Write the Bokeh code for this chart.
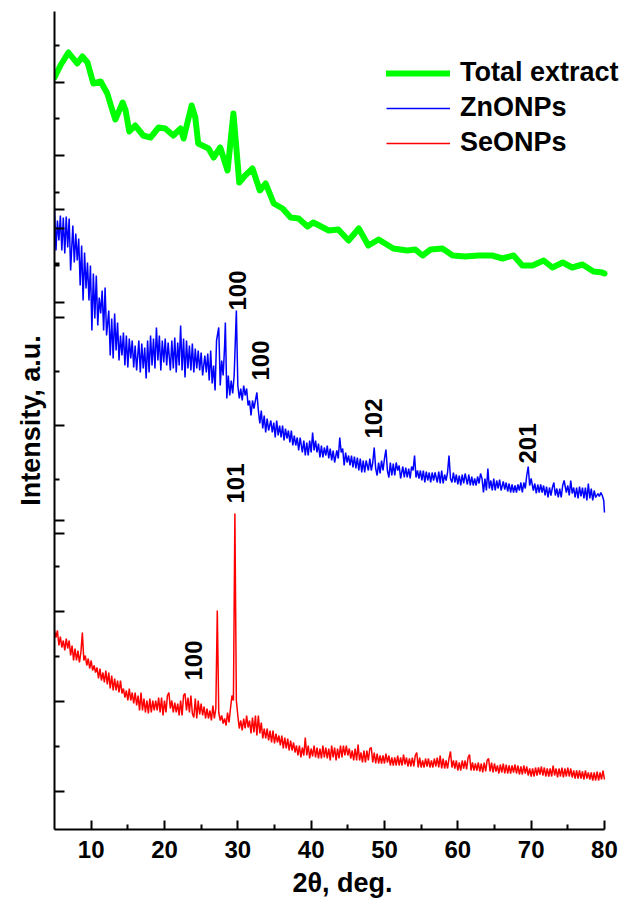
from math import pi
from bokeh.plotting import figure
from bokeh.models import Legend, LegendItem, FixedTicker, Range1d, CustomJSTickFormatter
from bokeh.core.properties import value
from bokeh.embed import file_html
from bokeh.resources import INLINE

FONT = "Liberation Sans"

# ---- data (2theta in degrees, intensity in a.u.) ----
green_two_theta = [5.0, 5.8, 6.9, 8.1, 8.8, 9.5, 10.3, 11.3, 12.2, 12.9, 13.3, 14.3, 14.7, 15.2, 16.0,
                   17.1, 18.1, 19.2, 20.1, 21.2, 22.2, 22.6, 23.7, 24.2, 24.6, 26.0, 26.7, 27.6, 28.6,
                   29.4, 30.2, 31.0, 32.0, 33.0, 33.8, 34.9, 36.1, 37.2, 38.3, 39.5, 40.3, 42.4, 43.7,
                   45.1, 46.5, 47.8, 49.2, 51.2, 53.1, 54.2, 55.2, 56.3, 57.9, 59.3, 61.0, 62.8, 64.7,
                   66.1, 67.6, 68.8, 70.2, 71.7, 72.9, 74.3, 75.6, 77.0, 78.5, 79.7, 80.0]
green_intensity = [752, 764, 777, 766, 773, 767, 746, 748, 736, 719, 710, 727, 719, 698, 704,
                   694, 692, 702, 701, 694, 701, 691, 724, 712, 686, 681, 672, 682, 659,
                   716, 647, 654, 661, 639, 646, 626, 621, 612, 611, 603, 607, 599, 600,
                   589, 601, 584, 590, 581, 579, 580, 574, 580, 581, 574, 573, 574, 574,
                   571, 574, 564, 564, 569, 562, 567, 562, 565, 558, 557, 556]

zno_scan = [
    (5.0, 622), (5.2, 579), (5.4, 609), (5.6, 589), (5.8, 614), (6.0, 579), (6.2, 612), (6.4, 576),
    (6.6, 613), (6.8, 582), (7.0, 611), (7.2, 559), (7.5, 604), (7.7, 567), (7.9, 596), (8.1, 569),
    (8.3, 591), (8.5, 544), (8.7, 584), (8.9, 529), (9.1, 577), (9.3, 541), (9.5, 567), (9.7, 529),
    (9.9, 564), (10.1, 499), (10.3, 556), (10.5, 511), (10.7, 554), (10.9, 504), (11.1, 532), (11.3, 516),
    (11.5, 539), (11.7, 499), (11.9, 542), (12.1, 494), (12.4, 519), (12.6, 474), (12.8, 511), (13.0, 471),
    (13.2, 516), (13.4, 479), (13.6, 507), (13.8, 469), (14.0, 494), (14.2, 474), (14.4, 497), (14.6, 464),
    (14.8, 494), (15.0, 462), (15.2, 491), (15.4, 471), (15.6, 489), (15.8, 462), (16.0, 484), (16.2, 459),
    (16.5, 489), (16.7, 457), (16.9, 486), (17.1, 461), (17.3, 482), (17.5, 451), (17.7, 489), (17.9, 457),
    (18.1, 494), (18.3, 464), (18.5, 491), (18.7, 461), (18.9, 502), (19.1, 469), (19.3, 494), (19.5, 459),
    (19.7, 489), (19.9, 467), (20.1, 491), (20.3, 464), (20.5, 487), (20.8, 459), (21.0, 489), (21.2, 461),
    (21.4, 492), (21.6, 457), (21.8, 487), (22.0, 464), (22.2, 504), (22.4, 459), (22.6, 491), (22.8, 452),
    (23.0, 489), (23.2, 461), (23.4, 484), (23.6, 459), (23.8, 486), (24.0, 457), (24.2, 481), (24.4, 461),
    (24.6, 479), (24.8, 459), (25.0, 477), (25.2, 454), (25.5, 474), (25.7, 457), (25.9, 476), (26.1, 449),
    (26.3, 479), (26.5, 446), (26.7, 464), (26.9, 439), (27.1, 489), (27.4, 502), (27.6, 444), (27.8, 469),
    (28.0, 454), (28.2, 484), (28.3, 507), (28.5, 431), (28.7, 454), (28.9, 434), (29.1, 449), (29.3, 436),
    (29.5, 454), (29.8, 519), (30.0, 444), (30.2, 431), (30.4, 441), (30.6, 429), (30.8, 444), (31.0, 434),
    (31.2, 441), (31.4, 424), (31.6, 429), (31.8, 414), (32.0, 429), (32.2, 421), (32.4, 429), (32.6, 437),
    (32.8, 419), (33.0, 406), (33.2, 419), (33.4, 401), (33.6, 414), (33.8, 397), (34.0, 411), (34.2, 399),
    (34.5, 409), (34.7, 397), (34.9, 407), (35.1, 392), (35.3, 409), (35.5, 394), (35.7, 404), (35.9, 392),
    (36.1, 404), (36.3, 389), (36.5, 401), (36.7, 391), (36.9, 399), (37.1, 387), (37.3, 399), (37.5, 384),
    (37.7, 394), (37.9, 384), (38.1, 392), (38.3, 379), (38.5, 392), (38.8, 377), (39.0, 389), (39.2, 374),
    (39.4, 387), (39.6, 374), (39.8, 389), (40.0, 377), (40.2, 397), (40.4, 379), (40.6, 389), (40.8, 377),
    (41.0, 386), (41.2, 372), (41.4, 384), (41.6, 372), (41.8, 382), (42.0, 374), (42.2, 384), (42.4, 371),
    (42.6, 381), (42.8, 369), (43.0, 379), (43.2, 367), (43.5, 379), (43.7, 371), (43.9, 392), (44.1, 377),
    (44.3, 381), (44.5, 364), (44.7, 377), (44.9, 367), (45.1, 374), (45.3, 364), (45.5, 374), (45.7, 362),
    (45.9, 373), (46.1, 361), (46.3, 372), (46.5, 359), (46.7, 371), (46.9, 357), (47.1, 369), (47.3, 357),
    (47.5, 369), (47.8, 359), (48.0, 371), (48.2, 359), (48.4, 367), (48.6, 382), (48.8, 361), (49.0, 354),
    (49.2, 367), (49.4, 356), (49.6, 369), (49.8, 359), (50.0, 371), (50.2, 380), (50.4, 359), (50.6, 352),
    (50.8, 367), (51.0, 354), (51.2, 366), (51.4, 354), (51.6, 367), (51.8, 359), (52.0, 364), (52.2, 351),
    (52.5, 363), (52.7, 352), (52.9, 362), (53.1, 352), (53.3, 361), (53.5, 351), (53.7, 363), (53.9, 359),
    (54.1, 374), (54.3, 352), (54.5, 359), (54.7, 351), (54.9, 359), (55.1, 349), (55.3, 359), (55.5, 347),
    (55.7, 358), (55.9, 349), (56.1, 357), (56.3, 347), (56.5, 357), (56.7, 349), (56.9, 357), (57.2, 347),
    (57.4, 358), (57.6, 346), (57.8, 359), (58.0, 346), (58.2, 355), (58.4, 349), (58.6, 357), (58.8, 374),
    (59.0, 351), (59.2, 347), (59.4, 357), (59.6, 347), (59.8, 355), (60.0, 345), (60.2, 354), (60.4, 344),
    (60.6, 355), (60.8, 346), (61.0, 356), (61.3, 345), (61.5, 355), (61.7, 344), (61.9, 353), (62.1, 344),
    (62.3, 351), (62.5, 344), (62.7, 353), (62.9, 346), (63.1, 356), (63.3, 351), (63.5, 337), (63.7, 351),
    (63.9, 339), (64.1, 361), (64.3, 341), (64.5, 349), (64.7, 339), (64.9, 351), (65.1, 339), (65.3, 349),
    (65.5, 341), (65.7, 350), (65.9, 339), (66.2, 348), (66.4, 340), (66.6, 347), (66.8, 338), (67.0, 346),
    (67.2, 337), (67.4, 345), (67.6, 337), (67.8, 344), (68.0, 337), (68.2, 345), (68.4, 339), (68.6, 347),
    (68.8, 337), (69.0, 347), (69.2, 341), (69.4, 354), (69.6, 363), (69.8, 344), (70.0, 351), (70.3, 339),
    (70.5, 346), (70.7, 336), (70.9, 345), (71.1, 337), (71.3, 345), (71.5, 337), (71.7, 344), (71.9, 334),
    (72.1, 343), (72.3, 332), (72.5, 342), (72.7, 334), (72.9, 342), (73.1, 347), (73.3, 334), (73.5, 341),
    (73.7, 332), (73.9, 341), (74.1, 332), (74.3, 344), (74.5, 349), (74.8, 337), (75.0, 344), (75.2, 334),
    (75.4, 349), (75.6, 336), (75.8, 342), (76.0, 332), (76.2, 342), (76.4, 331), (76.6, 343), (76.8, 333),
    (77.0, 342), (77.2, 331), (77.4, 342), (77.6, 329), (77.8, 346), (78.0, 331), (78.2, 341), (78.4, 329),
    (78.6, 339), (78.8, 332), (79.1, 336), (79.3, 333), (79.5, 337), (79.7, 334), (79.9, 329), (80.0, 317),
]

se_scan = [
    (5.0, 199), (5.2, 192), (5.4, 199), (5.6, 184), (5.8, 193), (6.0, 182), (6.2, 189), (6.4, 179), (6.6, 191), (6.8, 181),
    (7.0, 189), (7.2, 174), (7.4, 184), (7.6, 169), (7.8, 181), (8.0, 169), (8.2, 179), (8.4, 167), (8.6, 177), (8.8, 197),
    (9.0, 169), (9.2, 174), (9.4, 164), (9.6, 171), (9.8, 161), (10.0, 169), (10.2, 159), (10.4, 164), (10.6, 157), (10.8, 162),
    (11.0, 151), (11.2, 161), (11.4, 149), (11.6, 157), (11.8, 147), (12.0, 159), (12.2, 145), (12.4, 157), (12.6, 141), (12.8, 154),
    (13.0, 139), (13.2, 151), (13.4, 139), (13.6, 149), (13.8, 137), (14.0, 149), (14.2, 136), (14.4, 141), (14.6, 132), (14.8, 139),
    (15.0, 129), (15.2, 141), (15.4, 129), (15.6, 137), (15.8, 126), (16.0, 137), (16.2, 124), (16.4, 134), (16.6, 119), (16.8, 137),
    (17.0, 119), (17.2, 131), (17.4, 117), (17.6, 129), (17.8, 116), (18.0, 131), (18.2, 117), (18.4, 129), (18.6, 119), (18.8, 129),
    (19.0, 119), (19.2, 132), (19.4, 117), (19.6, 132), (19.8, 114), (20.0, 129), (20.2, 117), (20.4, 134), (20.6, 137), (20.8, 121),
    (21.0, 129), (21.2, 117), (21.4, 127), (21.6, 117), (21.8, 126), (22.0, 114), (22.2, 129), (22.4, 114), (22.6, 134), (22.8, 136),
    (23.0, 119), (23.2, 132), (23.4, 117), (23.6, 134), (23.8, 116), (24.0, 112), (24.2, 131), (24.4, 111), (24.6, 129), (24.8, 115),
    (25.0, 126), (25.2, 114), (25.4, 123), (25.6, 111), (25.8, 121), (26.0, 111), (26.2, 119), (26.4, 109), (26.6, 124), (26.8, 111),
    (27.0, 121), (27.2, 219), (27.4, 117), (27.6, 109), (27.8, 114), (28.0, 106), (28.2, 111), (28.4, 104), (28.6, 117), (28.8, 107),
    (29.0, 121), (29.2, 134), (29.4, 129), (29.6, 316), (29.8, 129), (30.0, 114), (30.2, 101), (30.4, 109), (30.6, 99), (30.8, 111),
    (31.0, 101), (31.2, 114), (31.4, 102), (31.6, 109), (31.8, 96), (32.0, 112), (32.2, 97), (32.4, 114), (32.6, 94), (32.8, 114),
    (33.0, 96), (33.2, 107), (33.4, 91), (33.6, 101), (33.8, 91), (34.0, 101), (34.2, 89), (34.4, 99), (34.6, 87), (34.8, 99),
    (35.0, 86), (35.2, 96), (35.4, 87), (35.6, 94), (35.8, 84), (36.0, 94), (36.2, 81), (36.4, 92), (36.6, 81), (36.8, 91),
    (37.0, 79), (37.2, 89), (37.4, 79), (37.6, 87), (37.8, 77), (38.0, 84), (38.2, 74), (38.4, 84), (38.6, 72), (38.8, 82),
    (39.0, 74), (39.2, 92), (39.4, 74), (39.6, 84), (39.8, 71), (40.0, 81), (40.2, 73), (40.4, 84), (40.6, 72), (40.8, 82),
    (41.0, 71), (41.2, 81), (41.4, 71), (41.6, 84), (41.8, 72), (42.0, 82), (42.2, 71), (42.4, 81), (42.6, 69), (42.8, 84),
    (43.0, 72), (43.2, 82), (43.4, 69), (43.6, 81), (43.8, 71), (44.0, 84), (44.2, 72), (44.4, 84), (44.6, 74), (44.8, 84),
    (45.0, 74), (45.2, 81), (45.4, 71), (45.6, 79), (45.8, 69), (46.0, 81), (46.2, 69), (46.4, 85), (46.6, 69), (46.8, 77),
    (47.0, 67), (47.2, 79), (47.4, 67), (47.6, 79), (47.8, 69), (48.0, 81), (48.2, 82), (48.4, 67), (48.6, 77), (48.8, 66),
    (49.0, 76), (49.2, 66), (49.4, 74), (49.6, 66), (49.8, 74), (50.0, 66), (50.2, 76), (50.4, 67), (50.6, 74), (50.8, 64),
    (51.0, 72), (51.2, 64), (51.4, 72), (51.6, 64), (51.8, 74), (52.0, 64), (52.2, 72), (52.4, 64), (52.6, 75), (52.8, 65),
    (53.0, 72), (53.2, 63), (53.4, 71), (53.6, 63), (53.8, 72), (54.0, 63), (54.2, 74), (54.4, 77), (54.6, 62), (54.8, 72),
    (55.0, 62), (55.2, 69), (55.4, 62), (55.6, 71), (55.8, 63), (56.0, 71), (56.2, 62), (56.4, 69), (56.6, 62), (56.8, 71),
    (57.0, 63), (57.2, 72), (57.4, 62), (57.6, 74), (57.8, 61), (58.0, 71), (58.2, 61), (58.4, 69), (58.6, 61), (58.8, 71),
    (59.0, 78), (59.2, 62), (59.4, 69), (59.6, 61), (59.8, 69), (60.0, 59), (60.2, 67), (60.4, 59), (60.6, 69), (60.8, 61),
    (61.0, 69), (61.2, 60), (61.4, 72), (61.6, 75), (61.8, 59), (62.0, 67), (62.2, 59), (62.4, 66), (62.6, 59), (62.8, 67),
    (63.0, 58), (63.2, 66), (63.4, 57), (63.6, 67), (63.8, 58), (64.0, 69), (64.2, 71), (64.4, 58), (64.6, 67), (64.8, 57),
    (65.0, 66), (65.2, 58), (65.4, 64), (65.6, 56), (65.8, 65), (66.0, 57), (66.2, 66), (66.4, 56), (66.6, 65), (66.8, 56),
    (67.0, 64), (67.2, 56), (67.4, 64), (67.6, 57), (67.8, 65), (68.0, 56), (68.2, 64), (68.4, 55), (68.6, 63), (68.8, 55),
    (69.0, 64), (69.2, 56), (69.4, 63), (69.6, 54), (69.8, 61), (70.0, 53), (70.2, 61), (70.4, 53), (70.6, 62), (70.8, 54),
    (71.0, 62), (71.2, 55), (71.4, 63), (71.6, 54), (71.8, 62), (72.0, 53), (72.2, 61), (72.4, 53), (72.6, 61), (72.8, 53),
    (73.0, 64), (73.2, 54), (73.4, 61), (73.6, 52), (73.8, 61), (74.0, 53), (74.2, 62), (74.4, 52), (74.6, 61), (74.8, 53),
    (75.0, 62), (75.2, 53), (75.4, 61), (75.6, 52), (75.8, 59), (76.0, 51), (76.2, 59), (76.4, 51), (76.6, 59), (76.8, 51),
    (77.0, 58), (77.2, 50), (77.4, 59), (77.6, 51), (77.8, 57), (78.0, 50), (78.2, 57), (78.4, 49), (78.6, 57), (78.8, 49),
    (79.0, 58), (79.2, 49), (79.4, 57), (79.6, 50), (79.8, 59), (80.0, 50),
]

zno_two_theta = [a for a, _ in zno_scan]
zno_intensity = [b for _, b in zno_scan]
se_two_theta = [a for a, _ in se_scan]
se_intensity = [b for _, b in se_scan]

series_labels = ["Total extract", "ZnONPs", "SeONPs"]

peak_text = ["100", "100", "102", "201", "101", "100"]
peak_two_theta = [29.9, 33.1, 48.5, 69.5, 29.7, 23.9]
peak_label_base = [519, 449, 391, 366, 326, 149]

x_major_ticks = [10, 20, 30, 40, 50, 60, 70, 80]
x_minor_ticks = [15, 25, 35, 45, 55, 65, 75]
y_major_ticks = [747, 674, 601, 527, 620, 512, 404, 296, 309, 218, 128, 38]
y_minor_ticks = [784, 711, 637, 564, 566, 458, 350, 263, 173, 83]

# ---- figure ----
# the x scale runs a little past 80 so the legend text can extend beyond the last tick;
# the x axis line itself is bounded to 5..80
p = figure(width=630, height=905, x_range=Range1d(5, 83.55), y_range=Range1d(0, 818),
           output_backend="svg", toolbar_location=None,
           min_border_left=54, min_border_right=0, min_border_top=11, min_border_bottom=76)
p.outline_line_color = None
p.grid.visible = False
p.background_fill_color = "white"
p.border_fill_color = "white"

r_se = p.line(se_two_theta, se_intensity, line_color="#ff0000", line_width=1.5)
r_zno = p.line(zno_two_theta, zno_intensity, line_color="#0000ff", line_width=1.5)
r_tot = p.line(green_two_theta, green_intensity, line_color="#00ff00", line_width=6,
               line_join="round", line_cap="round")

p.text(x=peak_two_theta, y=peak_label_base, text=peak_text, angle=pi / 2,
       text_font=value(FONT), text_font_style="bold", text_font_size="24px",
       text_align="left", text_baseline="middle", text_color="black")

xa = p.xaxis[0]
xa.bounds = (5, 80)
xa.ticker = FixedTicker(ticks=x_major_ticks, minor_ticks=x_minor_ticks)
xa.major_tick_in = 9
xa.major_tick_out = 0
xa.minor_tick_in = 5
xa.minor_tick_out = 0
xa.axis_line_width = 2
xa.major_tick_line_width = 2
xa.minor_tick_line_width = 2
xa.major_label_text_font = FONT
xa.major_label_text_font_style = "bold"
xa.major_label_text_font_size = "24px"
xa.major_label_text_color = "black"
xa.major_label_standoff = 11
xa.axis_label = "2θ, deg."
xa.axis_label_text_font = FONT
xa.axis_label_text_font_style = "bold"
xa.axis_label_text_font_size = "27px"
xa.axis_label_text_color = "black"
xa.axis_label_standoff = 7

ya = p.yaxis[0]
ya.ticker = FixedTicker(ticks=y_major_ticks, minor_ticks=y_minor_ticks)
ya.formatter = CustomJSTickFormatter(code="return ''")
ya.major_tick_in = 10
ya.major_tick_out = 0
ya.minor_tick_in = 5
ya.minor_tick_out = 0
ya.axis_line_width = 2
ya.major_tick_line_width = 2
ya.minor_tick_line_width = 2
ya.major_label_standoff = 0
ya.axis_label = "Intensity, a.u."
ya.axis_label_text_font = FONT
ya.axis_label_text_font_style = "bold"
ya.axis_label_text_font_size = "27px"
ya.axis_label_text_color = "black"
ya.axis_label_standoff = 9

legend = Legend(
    items=[LegendItem(label=series_labels[0], renderers=[r_tot]),
           LegendItem(label=series_labels[1], renderers=[r_zno]),
           LegendItem(label=series_labels[2], renderers=[r_se])],
    location=(332, 671), orientation="vertical",
    border_line_color=None, background_fill_alpha=0,
    padding=0, margin=0, spacing=4,
    glyph_width=64, glyph_height=30, label_height=30, label_standoff=10,
    label_text_font=FONT, label_text_font_style="bold", label_text_font_size="27px",
    label_text_color="black")
p.add_layout(legend)

open("out.html", "w").write(file_html(p, INLINE))
